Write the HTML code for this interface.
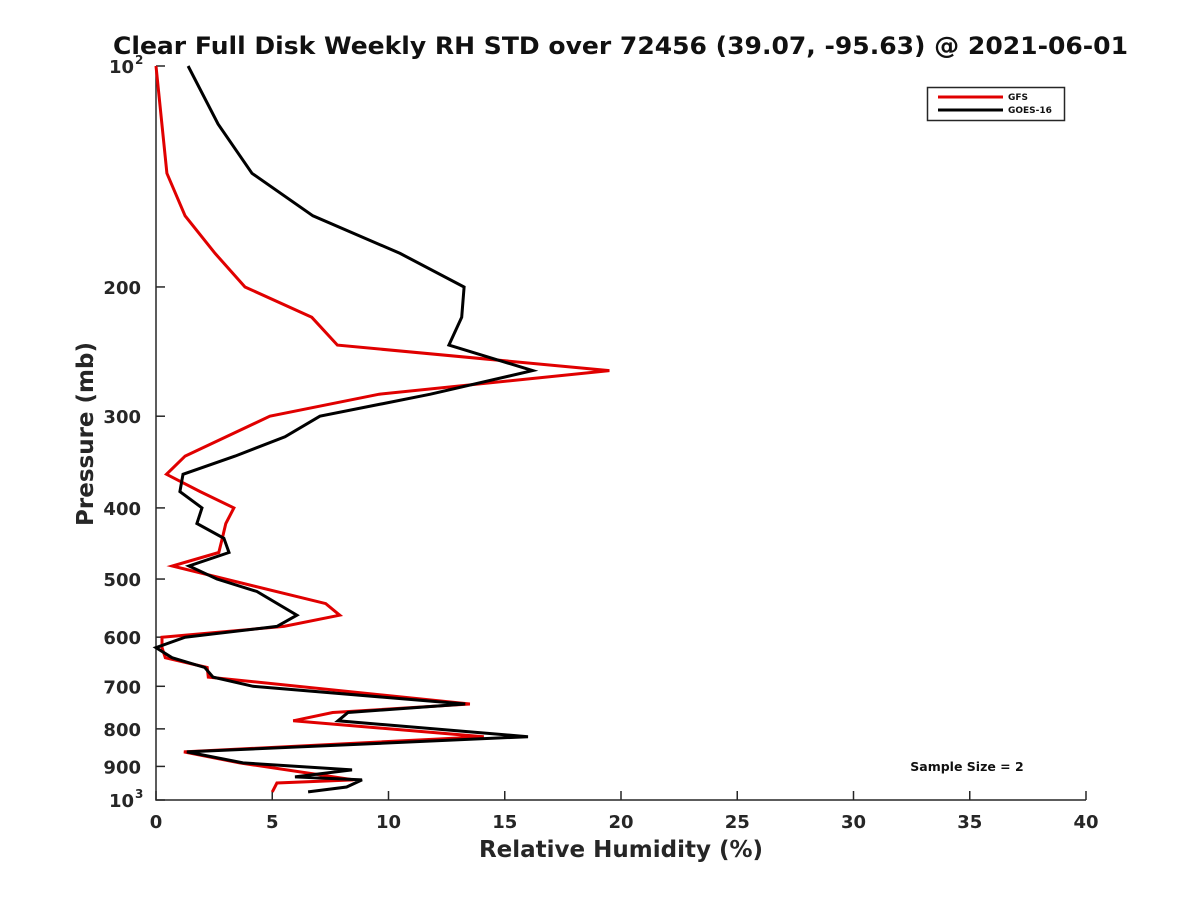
<!DOCTYPE html>
<html><head><meta charset="utf-8"><style>
body{margin:0;background:#fff;}
svg{display:block;font-family:"DejaVu Sans","Liberation Sans",sans-serif;}
</style></head><body>
<svg id="chart" width="1200" height="900" xmlns="http://www.w3.org/2000/svg"></svg>
<script>
const gfsLevels=[100,140,160,180,200,220,240,260,280,300,340,360,380,400,420,440,460,480,540,560,580,600,620,640,660,680,740,760,780,820,860,890,939,948,975];
const gfsValues=[0,0.47,1.25,2.54,3.83,6.7,7.8,19.5,9.6,4.9,1.25,0.45,1.9,3.35,3.0,2.85,2.7,0.7,7.3,7.9,5.5,0.26,0.26,0.4,2.2,2.25,13.5,7.6,5.9,14.1,1.2,3.6,8.5,5.2,5.0];
const goesLevels=[100,120,140,160,180,200,220,240,260,280,300,320,340,360,380,400,420,440,460,480,500,520,560,580,600,620,640,660,680,700,740,760,780,820,860,890,910,930,939,960,975];
const goesValues=[1.38,2.67,4.13,6.75,10.5,13.25,13.15,12.6,16.2,11.8,7.05,5.55,3.4,1.16,1.03,1.98,1.76,2.92,3.14,1.42,2.62,4.34,6.06,5.2,1.25,0,0.69,2.1,2.45,4.17,13.3,8.26,7.83,16.0,1.33,3.74,8.43,5.98,8.86,8.2,6.54];
const xTicks=[0,5,10,15,20,25,30,35,40];
const yTicks=[200,300,400,500,600,700,800,900];

const NS="http://www.w3.org/2000/svg";
const svg=document.getElementById('chart');
const X0=156,X1=1086,Y0=66,Y1=800;
const xs=v=>X0+(v-0)/(40-0)*(X1-X0);
const ys=p=>Y0+(Math.log10(p)-2)*(Y1-Y0);
function mk(tag,attrs,txt){const e=document.createElementNS(NS,tag);for(const k in attrs)e.setAttribute(k,attrs[k]);if(txt!==undefined)e.textContent=txt;svg.appendChild(e);return e;}

let t=mk('text',{x:113,y:54,'font-size':24,'font-weight':'bold',fill:'#111',textLength:1015,lengthAdjust:'spacingAndGlyphs'},'Clear Full Disk Weekly RH STD over 72456 (39.07, -95.63) @ 2021-06-01');



let ax=mk('path',{d:`M${X0},${Y0} L${X0},${Y1} L${X1},${Y1}`,fill:'none',stroke:'#262626','stroke-width':1.5});



xTicks.forEach(v=>{
  const x=xs(v);
  let l=mk('line',{x1:x,y1:Y1,x2:x,y2:Y1-9,stroke:'#262626','stroke-width':1.5});
  
  
  let tx=mk('text',{x:x,y:828,'text-anchor':'middle','font-size':18,'font-weight':'bold',fill:'#262626'},String(v));
  
  
});
function ytick(p,label,sup){
  const y=ys(p);
  let l=mk('line',{x1:X0,y1:y,x2:X0+9,y2:y,stroke:'#262626','stroke-width':1.5});
  
  
  let tx=mk('text',{x:sup?134:141,y:y+7,'text-anchor':'end','font-size':18,'font-weight':'bold',fill:'#262626'},label);
  
  
  if(sup){let s=mk('text',{x:135,y:y-2,'font-size':12,'font-weight':'bold',fill:'#262626'},sup);
  
  }
}
ytick(100,'10','2');
yTicks.forEach(p=>ytick(p,String(p)));
ytick(1000,'10','3');

let xl=mk('text',{x:621,y:857,'text-anchor':'middle','font-size':23,'font-weight':'bold',fill:'#262626'},'Relative Humidity (%)');


let yl=mk('text',{x:0,y:0,'text-anchor':'middle','font-size':23,'font-weight':'bold',fill:'#262626',transform:'translate(93,434) rotate(-90)'},'Pressure (mb)');



function series(levels,vals,color,name){
  const pts=levels.map((p,i)=>xs(vals[i]).toFixed(1)+','+ys(p).toFixed(1)).join(' ');
  let pl=mk('polyline',{points:pts,fill:'none',stroke:color,'stroke-width':3,'stroke-linejoin':'miter'});
  
  
}
series(gfsLevels,gfsValues,'#e00000','gfs-line');
series(goesLevels,goesValues,'#000','goes16-line');

let lb=mk('rect',{x:927.5,y:87.5,width:137,height:33,fill:'#fff',stroke:'#262626','stroke-width':1.5});


let l1=mk('line',{x1:938,y1:97,x2:1003,y2:97,stroke:'#e00000','stroke-width':3});


let t1=mk('text',{x:1008,y:100,'font-size':9,'font-weight':'bold',fill:'#111'},'GFS');


let l2=mk('line',{x1:938,y1:110,x2:1003,y2:110,stroke:'#000','stroke-width':3});


let t2=mk('text',{x:1008,y:113,'font-size':9,'font-weight':'bold',fill:'#111'},'GOES-16');



let ss=mk('text',{x:967,y:771,'text-anchor':'middle','font-size':12.5,'font-weight':'bold',fill:'#111'},'Sample Size = 2');


</script>
</body></html>
